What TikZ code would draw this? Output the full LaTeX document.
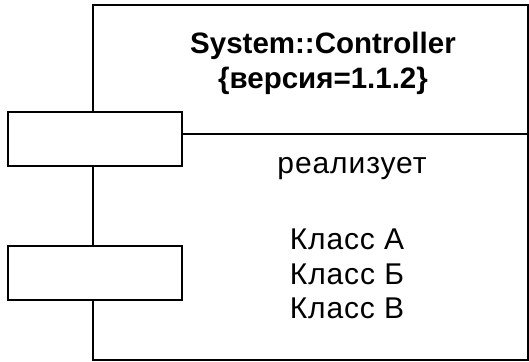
\documentclass[tikz,border=0pt]{standalone}
\usepackage{fontspec}
\setmainfont{Liberation Sans}
\newfontfamily\spacedfont[LetterSpace=3]{Liberation Sans}
\usetikzlibrary{positioning}
\tikzset{
  compbox/.style={draw, inner sep=0pt, minimum width=435pt, minimum height=355pt},
  portbox/.style={draw, fill=white, inner sep=0pt, minimum width=174pt, minimum height=54pt},
  titletext/.style={anchor=base, inner sep=0pt, font=\bfseries\fontsize{29.5}{35}\selectfont},
  bodytext/.style={anchor=base, inner sep=0pt, font=\spacedfont\fontsize{30}{35}\selectfont}
}
\begin{document}
\begin{tikzpicture}[x=1pt,y=-1pt,line width=1.6pt]
  \useasboundingbox (0,0) rectangle (529,361);
  \node[compbox, anchor=north west] (comp) at (92,4) {};
  \node[portbox] (port1) at (95,139) {};
  \node[portbox] (port2) at (95,273) {};
  \coordinate (sep) at (527,134);
  \draw (port1.east |- sep) -- (comp.east |- sep);
  \node[titletext] (name) at (323,53) {System::Controller};
  \node[titletext] (version) at (323,88) {\{версия=1.1.2\}};
  \node[bodytext] (realizes) at (352,173) {реализует};
  \node[bodytext] (classA) at (347,249) {Класс А};
  \node[bodytext] (classB) at (347,284) {Класс Б};
  \node[bodytext] (classC) at (347,318) {Класс В};
\end{tikzpicture}
\end{document}
